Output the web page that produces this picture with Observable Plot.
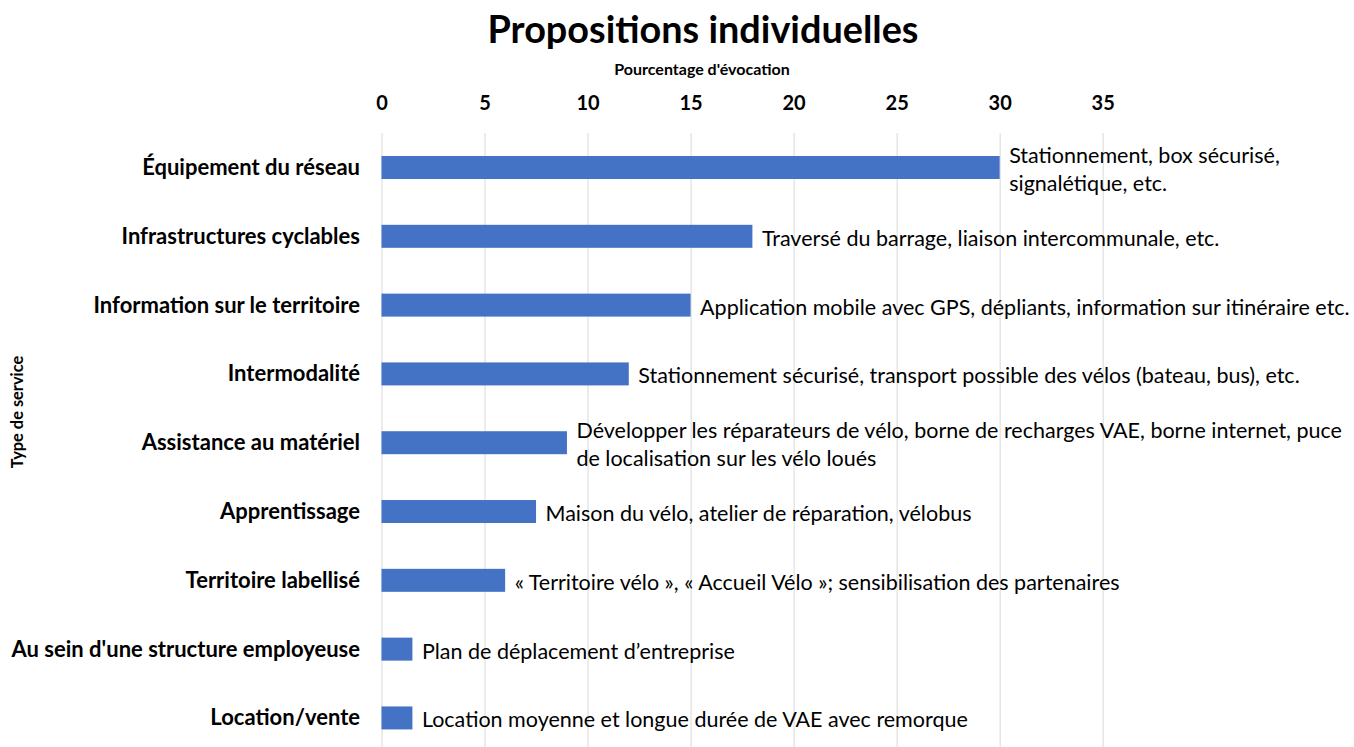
<!DOCTYPE html>
<html>
<head>
<meta charset="utf-8">
<script src="https://cdn.jsdelivr.net/npm/d3@7"></script>
<script src="https://cdn.jsdelivr.net/npm/@observablehq/plot@0.6"></script>
<style>
  html, body { margin: 0; padding: 0; background: #fff; overflow: hidden; }
  body { width: 1354px; height: 747px; position: relative; font-family: Lato, "Open Sans", sans-serif; color: #000; }
  #head { height: 80px; position: relative; }
  #title { position: absolute; left: 0; width: 1406px; top: 6px; text-align: center; font-weight: bold; font-size: 37.8px; line-height: 46px; }
  #subtitle { position: absolute; left: 0; width: 1404px; top: 59px; text-align: center; font-weight: bold; font-size: 16px; line-height: 20px; }
  #ylabel { position: absolute; left: 16px; top: 412px; transform: translate(-50%, -50%) rotate(-90deg); font-weight: bold; font-size: 16.4px; white-space: nowrap; }
  #chart svg { display: block; }
</style>
</head>
<body>
<div id="head">
  <div id="title">Propositions individuelles</div>
  <div id="subtitle">Pourcentage d'évocation</div>
</div>
<div id="ylabel">Type de service</div>
<div id="chart"></div>
<script>
const categories = [
  "Équipement du réseau",
  "Infrastructures cyclables",
  "Information sur le territoire",
  "Intermodalité",
  "Assistance au matériel",
  "Apprentissage",
  "Territoire labellisé",
  "Au sein d'une structure employeuse",
  "Location/vente"
];
const values = [30, 18, 15, 12, 9, 7.5, 6, 1.5, 1.5];
const notes = [
  "Stationnement, box sécurisé,\nsignalétique, etc.",
  "Traversé du barrage, liaison intercommunale, etc.",
  "Application mobile avec GPS, dépliants, information sur itinéraire etc.",
  "Stationnement sécurisé, transport possible des vélos (bateau, bus), etc.",
  "Développer les réparateurs de vélo, borne de recharges VAE, borne internet, puce\nde localisation sur les vélo loués",
  "Maison du vélo, atelier de réparation, vélobus",
  "« Territoire vélo », « Accueil Vélo »; sensibilisation des partenaires",
  "Plan de déplacement d’entreprise",
  "Location moyenne et longue durée de VAE avec remorque"
];
const xTicks = [0, 5, 10, 15, 20, 25, 30, 35];

const data = categories.map((c, i) => ({category: c, value: values[i], note: notes[i]}));

const chart = Plot.plot({
  width: 1354,
  height: 667,
  marginTop: 53,
  marginBottom: 0,
  marginLeft: 381.5,
  marginRight: 251.3,
  style: {fontFamily: "Lato, 'Open Sans', sans-serif", color: "#000", background: "#fff", overflow: "visible"},
  x: {domain: [0, 35], axis: "top", ticks: xTicks, tickSize: 0, tickPadding: 24, label: null, tickFormat: d => String(d)},
  y: {domain: categories, round: false, paddingInner: 0.666, paddingOuter: 0.295, align: 0.567, tickSize: 0, tickPadding: 22, label: null},
  marks: [
    Plot.ruleX(xTicks, {stroke: "#d9d9d9", strokeWidth: 1}),
    Plot.barX(data, {x: "value", y: "category", fill: "#4472C4"}),
    Plot.text(data, {x: "value", y: "category", text: "note", textAnchor: "start", dx: 9, fontSize: 21.5, lineHeight: 1.3, fill: "#000"})
  ]
});

d3.select(chart).selectAll("[aria-label='x-axis tick label'], g[aria-label='x-axis']").attr("font-size", 20).attr("font-weight", "bold");
d3.select(chart).selectAll("[aria-label='y-axis tick label'], g[aria-label='y-axis']").attr("font-size", 22).attr("font-weight", "bold");
document.getElementById("chart").appendChild(chart);
</script>
</body>
</html>
